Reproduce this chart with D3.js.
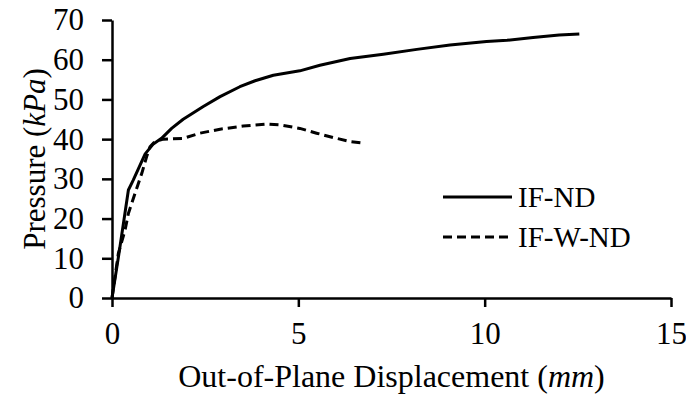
<!DOCTYPE html>
<html>
<head>
<meta charset="utf-8">
<script src="https://cdn.jsdelivr.net/npm/d3@7"></script>
<style>
  body { margin: 0; background: #fff; }
  svg { display: block; font-family: "Liberation Serif", "Times New Roman", serif; }
</style>
</head>
<body>
<div id="chart"></div>
<script>
// data: displacement (mm), pressure (kPa)
const ifNdX = [0, 0.2, 0.44, 0.57, 0.89, 1.11, 1.33, 1.6, 1.91, 2.45, 2.9, 3.43, 3.84, 4.33, 5.04, 5.58, 6.39, 7.28, 8.18, 9.07, 10.05, 10.6, 11.3, 12.0, 12.54];
const ifNdY = [0, 12, 27.2, 29.7, 36.3, 38.8, 40.2, 42.7, 45, 48.2, 50.7, 53.2, 54.7, 56.1, 57.2, 58.6, 60.3, 61.4, 62.6, 63.7, 64.6, 64.9, 65.6, 66.2, 66.5];

const ifWNdX = [0, 0.17, 0.35, 0.44, 0.62, 0.8, 0.93, 1.02, 1.15, 1.38, 1.91, 2.36, 2.9, 3.52, 4.15, 4.51, 5.04, 5.49, 5.94, 6.39, 6.74];
const ifWNdY = [0, 11.2, 17.1, 21.3, 26.4, 31.4, 35.6, 38.1, 39.4, 40, 40.2, 41.5, 42.5, 43.3, 43.8, 43.6, 42.7, 41.5, 40.4, 39.4, 39.0];

const seriesNames = ["IF-ND", "IF-W-ND"];
const xTicks = [0, 5, 10, 15];
const yTicks = [0, 10, 20, 30, 40, 50, 60, 70];

const width = 686, height = 400;
const margin = { top: 20, right: 15, bottom: 102, left: 112 };

const svg = d3.select("#chart").append("svg")
    .attr("width", width).attr("height", height);

svg.append("rect").attr("width", width).attr("height", height).attr("fill", "#fff");

const x = d3.scaleLinear().domain([0, 15]).range([margin.left, width - margin.right]);
const y = d3.scaleLinear().domain([0, 70]).range([height - margin.bottom, margin.top]);

// axes
const xAxis = svg.append("g")
    .attr("transform", `translate(0,${height - margin.bottom})`)
    .call(d3.axisBottom(x).tickValues(xTicks).tickSizeInner(9).tickSizeOuter(0).tickPadding(15));

const yAxis = svg.append("g")
    .attr("transform", `translate(${margin.left},0)`)
    .call(d3.axisLeft(y).tickValues(yTicks).tickSizeInner(10).tickSizeOuter(0).tickPadding(18));

[xAxis, yAxis].forEach(a => {
    a.select(".domain").attr("stroke", "#000").attr("stroke-width", 2.5);
    a.selectAll(".tick line").attr("stroke", "#000").attr("stroke-width", 2.5);
    a.selectAll(".tick text")
        .attr("fill", "#000")
        .style("font-family", "'Liberation Serif', 'Times New Roman', serif")
        .style("font-size", "31px");
});

// axis titles
const xTitle = svg.append("text")
    .attr("x", (margin.left + width - margin.right) / 2)
    .attr("y", 387)
    .attr("text-anchor", "middle")
    .style("font-size", "32px");
xTitle.append("tspan").text("Out-of-Plane Displacement (");
xTitle.append("tspan").style("font-style", "italic").text("mm");
xTitle.append("tspan").text(")");

const yTitle = svg.append("text")
    .attr("transform", `translate(45,${(margin.top + height - margin.bottom) / 2}) rotate(-90)`)
    .attr("text-anchor", "middle")
    .style("font-size", "31px");
yTitle.append("tspan").text("Pressure (");
yTitle.append("tspan").style("font-style", "italic").text("kPa");
yTitle.append("tspan").text(")");

// lines
const line = d3.line().x(d => x(d[0])).y(d => y(d[1]));

const series = [
    { name: seriesNames[0], pts: d3.zip(ifNdX, ifNdY), dash: null },
    { name: seriesNames[1], pts: d3.zip(ifWNdX, ifWNdY), dash: "9,5" }
];

svg.append("g").selectAll("path")
    .data(series)
    .enter()
    .append("path")
    .attr("d", d => line(d.pts))
    .attr("fill", "none")
    .attr("stroke", "#000")
    .attr("stroke-width", 3)
    .attr("stroke-linejoin", "round")
    .attr("stroke-dasharray", d => d.dash);

// legend
const legend = svg.append("g").attr("transform", "translate(443,197)");
const legendItem = legend.selectAll("g")
    .data(series)
    .enter()
    .append("g")
    .attr("transform", (d, i) => `translate(0,${i * 40})`);

legendItem.append("line")
    .attr("x1", 0).attr("x2", 69)
    .attr("stroke", "#000")
    .attr("stroke-width", 3)
    .attr("stroke-dasharray", d => d.dash);

legendItem.append("text")
    .attr("x", 75)
    .attr("y", 10)
    .style("font-size", "29px")
    .text(d => d.name);
</script>
</body>
</html>
